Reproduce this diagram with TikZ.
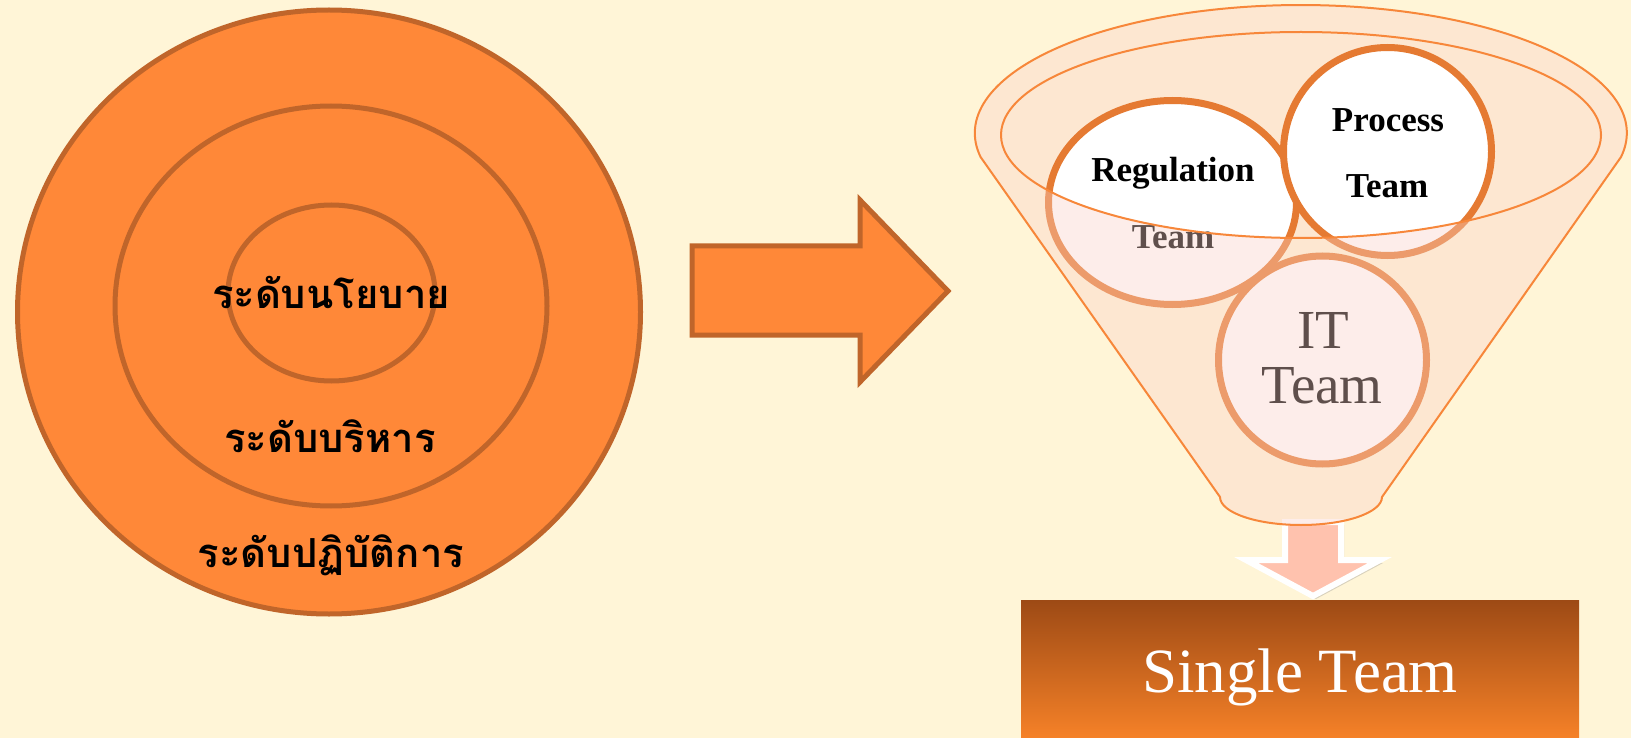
\documentclass[tikz,border=0pt]{standalone}
\usepackage{fontspec}
\setmainfont{Liberation Serif}
\newfontfamily\thaifont[Script=Thai]{Loma}
\usetikzlibrary{shapes.geometric,shadows}
\definecolor{bg}{RGB}{255,245,215}
\definecolor{lorange}{RGB}{255,136,56}
\definecolor{ldark}{RGB}{192,101,42}
\definecolor{fline}{RGB}{247,135,58}
\definecolor{cstroke}{RGB}{229,122,50}
\definecolor{ovlc}{RGB}{250,210,200}
\definecolor{pinkarrow}{RGB}{255,194,174}
\definecolor{boxtop}{RGB}{157,74,21}
\definecolor{boxbot}{RGB}{247,130,40}
\tikzset{
  lvl/.style={ellipse, draw=ldark, line width=5pt, fill=lorange, inner sep=0pt},
  thaitxt/.style={font=\thaifont\bfseries\fontsize{40}{48}\selectfont, text=black, inner sep=0pt},
  bigarrow/.style={draw=ldark, line width=5pt, fill=lorange, line join=miter},
  ovl/.style={fill=ovlc, fill opacity=0.38},
  funnelline/.style={draw=fline, line width=2pt},
  team/.style={draw=cstroke, line width=7pt, fill=white, inner sep=0pt,
    drop shadow={opacity=0.18, shadow xshift=2pt, shadow yshift=-3pt}},
  boldtxt/.style={font=\bfseries\fontsize{35}{42}\selectfont, text=black, inner sep=0pt},
  ittxt/.style={font=\fontsize{55}{66}\selectfont, text=black, inner sep=0pt},
  downarrow/.style={draw=white, line width=6pt, fill=pinkarrow,
    drop shadow={opacity=0.3, shadow xshift=3pt, shadow yshift=-3pt}},
  singlebox/.style={rectangle, inner sep=0pt, top color=boxtop, bottom color=boxbot, draw=none},
  singletxt/.style={font=\fontsize{63}{75}\selectfont, text=white, inner sep=0pt}
}
\begin{document}
\begin{tikzpicture}[x=1pt,y=-1pt]
\path[use as bounding box, fill=bg] (0,0) rectangle (1631,738);

% left concentric levels
\node[lvl, minimum width=623pt, minimum height=604pt] (outer) at (329,312) {};
\node[lvl, minimum width=432pt, minimum height=400pt] (middle) at (331,306) {};
\node[lvl, minimum width=207pt, minimum height=176pt] (inner) at (331.5,293) {};
\node[thaitxt, anchor=base] (policy) at (331,308) {ระดับนโยบาย};
\node[thaitxt, anchor=base] (manage) at (330,452) {ระดับบริหาร};
\node[thaitxt, anchor=base] (operate) at (331,567) {ระดับปฏิบัติการ};

% big right arrow
\draw[bigarrow] (692,246) -- (860,246) -- (860,200) -- (948,291) -- (860,382) -- (860,335) -- (692,335) -- cycle;

% down arrow
\draw[downarrow] (1285,522) -- (1341,522) -- (1341,560) -- (1380,560) -- (1313,596) -- (1246,560) -- (1285,560) -- cycle;

% funnel mouth (back)
\fill[ovl] (1301,135) ellipse [x radius=300pt, y radius=103pt];

% team circles
\node[team, ellipse, minimum width=248pt, minimum height=204pt] (reg) at (1172.5,202.5) {};
\node[boldtxt, anchor=base] (regA) at (1173,182) {Regulation};
\node[boldtxt, anchor=base] (regB) at (1173,248) {Team};
\node[team, circle, minimum size=208pt] (proc) at (1387.5,151.5) {};
\node[boldtxt, anchor=base] (procA) at (1388,132) {Process};
\node[boldtxt, anchor=base] (procB) at (1387,198) {Team};
\node[team, circle, minimum size=208pt] (it) at (1322.5,360) {};
\node[ittxt, anchor=base] (itA) at (1323,348) {IT};
\node[ittxt, anchor=base] (itB) at (1322,403) {Team};

% funnel body (front, translucent)
\fill[ovl, even odd rule] (1621,157) arc[start angle=-10.8, end angle=190.8, x radius=326pt, y radius=128pt]
  -- (1220,497) arc[start angle=180, end angle=360, x radius=81pt, y radius=28pt] -- cycle
  (1301,135) ellipse [x radius=300pt, y radius=103pt];
\draw[funnelline] (1621,157) arc[start angle=-10.8, end angle=190.8, x radius=326pt, y radius=128pt]
  -- (1220,497) arc[start angle=180, end angle=360, x radius=81pt, y radius=28pt] -- cycle;
\draw[funnelline] (1301,135) ellipse [x radius=300pt, y radius=103pt];

% single team box
\node[singlebox, minimum width=558pt, minimum height=140pt] (single) at (1300,670) {};
\node[singletxt, anchor=base] (singleT) at (1300,692) {Single Team};
\end{tikzpicture}
\end{document}
